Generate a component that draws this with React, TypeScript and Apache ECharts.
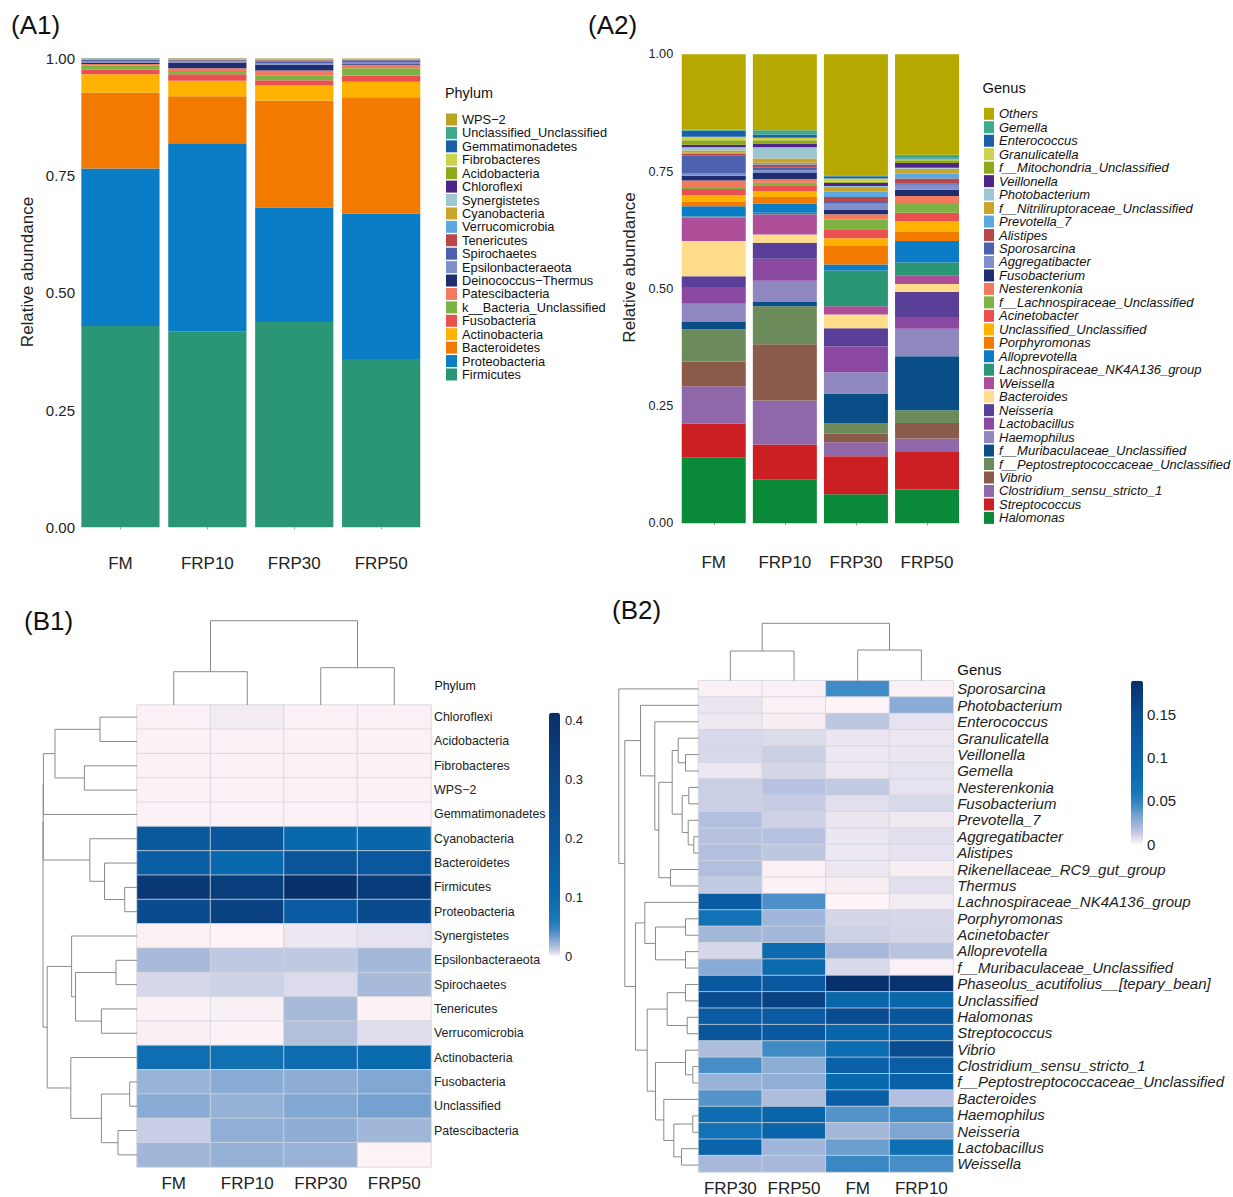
import React, { useEffect, useRef } from "react";
import * as echarts from "echarts";

const FONT = '"Liberation Sans", Arial, Helvetica, sans-serif';
const INK = "#222";

const SAMPLES = ["FM", "FRP10", "FRP30", "FRP50"];

// ---------- (A1) phylum composition, stacked bottom -> top ----------
const phylumStack = [
  "Firmicutes", "Proteobacteria", "Bacteroidetes", "Actinobacteria", "Fusobacteria",
  "k__Bacteria_Unclassified", "Patescibacteria", "Deinococcus\u2212Thermus", "Epsilonbacteraeota",
  "Spirochaetes", "Tenericutes", "Verrucomicrobia", "Cyanobacteria", "Synergistetes",
  "Chloroflexi", "Acidobacteria", "Fibrobacteres", "Gemmatimonadetes",
  "Unclassified_Unclassified", "WPS\u22122",
];
const phylumFM = [0.429, 0.336, 0.162, 0.039, 0.010, 0.009, 0.003, 0.003, 0.003, 0.003, 0.0004, 0.0004, 0.001, 0.0003, 0.0003, 0.0002, 0.0001, 0.0001, 0.0001, 0.0001];
const phylumFRP10 = [0.418, 0.401, 0.100, 0.033, 0.014, 0.007, 0.006, 0.012, 0.0028, 0.002, 0.001, 0.0005, 0.001, 0.0003, 0.0007, 0.0002, 0.0001, 0.0001, 0.0001, 0.0001];
const phylumFRP30 = [0.438, 0.244, 0.228, 0.032, 0.011, 0.011, 0.010, 0.012, 0.004, 0.003, 0.003, 0.0015, 0.001, 0.0005, 0.0003, 0.0002, 0.0001, 0.0001, 0.0001, 0.0001];
const phylumFRP50 = [0.359, 0.310, 0.248, 0.033, 0.013, 0.016, 0.007, 0.002, 0.004, 0.004, 0.0005, 0.001, 0.001, 0.0005, 0.0003, 0.0002, 0.0001, 0.0001, 0.0001, 0.0001];
const phylumColors = [
  "#2A9676", "#0A7DC6", "#F27A00", "#FFB300", "#EB5050",
  "#7CB342", "#F47A5E", "#1F2E70", "#7E8FCC",
  "#4E61AE", "#B84848", "#5CA9E0", "#C8A42A", "#9CC6D2",
  "#4D2688", "#8DAA1C", "#CBD34C", "#1A5FA8",
  "#3DAA8C", "#B9A520",
];

// ---------- (A2) genus composition, stacked bottom -> top ----------
const genusStack = [
  "Halomonas", "Streptococcus", "Clostridium_sensu_stricto_1", "Vibrio",
  "f__Peptostreptococcaceae_Unclassified", "f__Muribaculaceae_Unclassified", "Haemophilus",
  "Lactobacillus", "Neisseria", "Bacteroides", "Weissella", "Lachnospiraceae_NK4A136_group",
  "Alloprevotella", "Porphyromonas", "Unclassified_Unclassified", "Acinetobacter",
  "f__Lachnospiraceae_Unclassified", "Nesterenkonia", "Fusobacterium", "Aggregatibacter",
  "Sporosarcina", "Alistipes", "Prevotella_7", "f__Nitriliruptoraceae_Unclassified",
  "Photobacterium", "Veillonella", "f__Mitochondria_Unclassified", "Granulicatella",
  "Enterococcus", "Gemella", "Others",
];
const genusFM = [0.141, 0.072, 0.079, 0.053, 0.069, 0.015, 0.039, 0.036, 0.023, 0.075, 0.050, 0.002, 0.022, 0.009, 0.015, 0.013, 0.004, 0.014, 0.010, 0.006, 0.038, 0.003, 0.002, 0.005, 0.007, 0.005, 0.010, 0.007, 0.013, 0.002, 0.161];
const genusFRP10 = [0.093, 0.075, 0.094, 0.120, 0.081, 0.009, 0.045, 0.047, 0.034, 0.018, 0.043, 0.003, 0.020, 0.014, 0.012, 0.013, 0.005, 0.008, 0.013, 0.006, 0.005, 0.007, 0.004, 0.009, 0.024, 0.008, 0.007, 0.005, 0.007, 0.009, 0.162];
const genusFRP30 = [0.062, 0.081, 0.030, 0.018, 0.023, 0.063, 0.045, 0.055, 0.039, 0.029, 0.018, 0.076, 0.013, 0.039, 0.017, 0.019, 0.021, 0.011, 0.010, 0.014, 0.002, 0.011, 0.011, 0.010, 0.002, 0.007, 0.003, 0.006, 0.005, 0.002, 0.258];
const genusFRP50 = [0.072, 0.080, 0.029, 0.033, 0.027, 0.115, 0.059, 0.025, 0.053, 0.017, 0.019, 0.027, 0.046, 0.019, 0.023, 0.018, 0.021, 0.015, 0.013, 0.011, 0.002, 0.011, 0.011, 0.010, 0.002, 0.010, 0.006, 0.002, 0.002, 0.008, 0.214];
const genusColors = [
  "#0A8A38", "#CC1F24", "#8E68A8", "#8A5A4A",
  "#6B8C5A", "#0A4E88", "#8F88C0",
  "#8A48A0", "#5A3F98", "#FFDD8A", "#AE4E98", "#2A9676",
  "#0A7DC6", "#F27A00", "#FFB300", "#EB5050",
  "#7CB342", "#F47A5E", "#1F2E70", "#7E8FCC",
  "#4E61AE", "#B84848", "#5CA9E0", "#C8A42A",
  "#9CC6D2", "#4D2688", "#8DAA1C", "#CBD34C",
  "#1A5FA8", "#3DAA8C", "#B7A800",
];

// ---------- (B1) phylum heatmap ----------
const b1Rows = [
  "Chloroflexi", "Acidobacteria", "Fibrobacteres", "WPS\u22122", "Gemmatimonadetes",
  "Cyanobacteria", "Bacteroidetes", "Firmicutes", "Proteobacteria", "Synergistetes",
  "Epsilonbacteraeota", "Spirochaetes", "Tenericutes", "Verrucomicrobia", "Actinobacteria",
  "Fusobacteria", "Unclassified", "Patescibacteria", "",
];
const b1Cols = ["FM", "FRP10", "FRP30", "FRP50"];
const b1FM = [0.0008, 0.0006, 0.0006, 0.0006, 0.0006, 0.19, 0.16, 0.37, 0.27, 0.0005, 0.018, 0.007, 0.0005, 0.001, 0.09, 0.022, 0.026, 0.010, 0.020];
const b1FRP10 = [0.002, 0.0006, 0.0006, 0.0006, 0.0006, 0.21, 0.11, 0.34, 0.32, 0.0001, 0.012, 0.009, 0.001, 0.0007, 0.085, 0.026, 0.023, 0.024, 0.023];
const b1FRP30 = [0.0008, 0.0006, 0.0006, 0.0006, 0.0006, 0.11, 0.22, 0.41, 0.18, 0.003, 0.012, 0.006, 0.018, 0.015, 0.095, 0.025, 0.028, 0.025, 0.022];
const b1FRP50 = [0.0008, 0.0006, 0.0006, 0.0006, 0.0006, 0.12, 0.20, 0.35, 0.27, 0.004, 0.019, 0.018, 0.0005, 0.005, 0.10, 0.028, 0.031, 0.020, 0.0003];
const b1Max = 0.414;
const b1Ticks = 0.1;

// hclust-style merges: negative = leaf -(index+1), positive = earlier merge (1-based)
const b1RowMerges = [
  [-1, -2, 37], [-3, -4, 52.6], [1, 2, 82], [3, -5, 93.6],
  [-8, -9, 12.3], [-7, 5, 32.5], [-6, 6, 47.2], [4, 7, 93.8],
  [-11, -12, 21], [-13, -14, 35.6], [9, 10, 61.5], [-10, 11, 65.4],
  [-16, -17, 7.3], [-18, -19, 19], [13, 14, 35.6], [-15, 15, 66.2],
  [12, 16, 89.8], [8, 17, 94],
];
const b1ColMerges = [[-1, -2, 33.3], [-3, -4, 37.3], [1, 2, 84.3]];

// ---------- (B2) genus heatmap ----------
const b2Rows = [
  "Sporosarcina", "Photobacterium", "Enterococcus", "Granulicatella", "Veillonella",
  "Gemella", "Nesterenkonia", "Fusobacterium", "Prevotella_7", "Aggregatibacter",
  "Alistipes", "Rikenellaceae_RC9_gut_group", "Thermus", "Lachnospiraceae_NK4A136_group",
  "Porphyromonas", "Acinetobacter", "Alloprevotella", "f__Muribaculaceae_Unclassified",
  "Phaseolus_acutifolius__[tepary_bean]", "Unclassified", "Halomonas", "Streptococcus",
  "Vibrio", "Clostridium_sensu_stricto_1", "f__Peptostreptococcaceae_Unclassified",
  "Bacteroides", "Haemophilus", "Neisseria", "Lactobacillus", "Weissella",
];
const b2Cols = ["FRP30", "FRP50", "FM", "FRP10"];
const b2FRP30 = [0.001, 0.004, 0.003, 0.008, 0.008, 0.0035, 0.011, 0.011, 0.017, 0.016, 0.017, 0.017, 0.013, 0.12, 0.07, 0.021, 0.0085, 0.028, 0.125, 0.15, 0.12, 0.13, 0.018, 0.043, 0.024, 0.04, 0.08, 0.07, 0.1, 0.02];
const b2FRP50 = [0.001, 0.001, 0.0015, 0.007, 0.011, 0.009, 0.016, 0.012, 0.01, 0.016, 0.014, 0.001, 0.0005, 0.042, 0.022, 0.021, 0.085, 0.085, 0.125, 0.165, 0.12, 0.125, 0.045, 0.027, 0.026, 0.018, 0.1, 0.1, 0.022, 0.02];
const b2FM = [0.045, 0, 0.014, 0.004, 0.0035, 0.0035, 0.013, 0.006, 0.004, 0.004, 0.0035, 0.0035, 0.0015, 0, 0.009, 0.0105, 0.02, 0.008, 0.1886, 0.095, 0.15, 0.095, 0.08, 0.105, 0.09, 0.11, 0.04, 0.021, 0.035, 0.047];
const b2FRP10 = [0.001, 0.028, 0.005, 0.0035, 0.004, 0.005, 0.005, 0.008, 0.003, 0.006, 0.005, 0.0015, 0.006, 0.0025, 0.0085, 0.009, 0.015, 0.001, 0.185, 0.095, 0.13, 0.105, 0.15, 0.115, 0.105, 0.017, 0.045, 0.031, 0.075, 0.043];
const b2Max = 0.1886;
const b2Ticks = 0.05;

const b2RowMerges = [
  [-5, -6, 13], [-4, 1, 20.3], [-7, -8, 9.7], [-10, -11, 4.7], [-9, 4, 10.3],
  [3, 5, 16.3], [2, 6, 26.3], [-12, -13, 28], [7, 8, 39.7], [-3, 9, 43.7],
  [-2, 10, 58], [-15, -16, 13], [-17, -18, 13], [12, 13, 43], [-14, 14, 53.7],
  [-19, -20, 13], [-21, -22, 11.3], [16, 17, 31.3], [-24, -25, 5.7], [-23, 19, 13],
  [-27, -28, 5.7], [-29, -30, 17], [21, 22, 24.7], [-26, 23, 34.7], [20, 24, 43],
  [18, 25, 51.3], [15, 26, 63], [11, 27, 73.7], [-1, 28, 79.7],
];
const b2ColMerges = [[-1, -2, 29.7], [-3, -4, 30.7], [1, 2, 57.4]];

// colour ramps (value, colour) for the two heatmap scales
const b1Ramp: [number, string][] = [
  [0, "#FFF4F7"], [0.006, "#D9DAEB"], [0.015, "#B2BFDC"], [0.025, "#8EAED5"],
  [0.04, "#4C8EC6"], [0.06, "#1C78B9"], [0.1, "#0A6AAE"], [0.2, "#0A579D"],
  [0.3, "#0A4686"], [0.414, "#08306B"],
];
const b2Ramp: [number, string][] = [
  [0, "#FFF4F7"], [0.005, "#E6E2EF"], [0.012, "#C6CCE3"], [0.02, "#A6B8DA"],
  [0.03, "#82A8D3"], [0.045, "#3F8AC4"], [0.06, "#1676B8"], [0.09, "#0A68AD"],
  [0.12, "#0A5BA3"], [0.15, "#0A4C90"], [0.1886, "#08306B"],
];

function hexRgb(h: string) {
  const n = parseInt(h.slice(1), 16);
  return [(n >> 16) & 255, (n >> 8) & 255, n & 255];
}
function sampleRamp(stops: [number, string][], max: number, n: number) {
  const out: string[] = [];
  for (let i = 0; i < n; i++) {
    const v = (max * i) / (n - 1);
    let k = 0;
    while (k < stops.length - 2 && v > stops[k + 1][0]) k++;
    const [v0, c0] = stops[k];
    const [v1, c1] = stops[k + 1];
    const t = Math.min(1, Math.max(0, (v - v0) / (v1 - v0)));
    const a = hexRgb(c0), b = hexRgb(c1);
    const c = a.map((x, j) => Math.round(x + (b[j] - x) * t));
    out.push(`rgb(${c[0]},${c[1]},${c[2]})`);
  }
  return out;
}

// elbow paths of a dendrogram in (leaf position, height) space
function dendroPaths(merges: number[][], rowWise: boolean) {
  const pos: number[] = [];
  const hgt: number[] = [];
  const node = (k: number) => (k < 0 ? { p: -k - 1, h: 0 } : { p: pos[k - 1], h: hgt[k - 1] });
  const paths: { coords: number[][] }[] = [];
  merges.forEach(([a, b, h]) => {
    const A = node(a), B = node(b);
    const pts = [[A.p, A.h], [A.p, h], [B.p, h], [B.p, B.h]];
    paths.push({ coords: rowWise ? pts.map(([p, y]) => [y, p]) : pts });
    pos.push((A.p + B.p) / 2);
    hgt.push(h);
  });
  return paths;
}

function heatData(cols: number[][]) {
  const d: number[][] = [];
  cols.forEach((col, c) => col.forEach((v, r) => d.push([c, r, v])));
  return d;
}

const hidden = { show: false };

function buildOption() {
  const a1Cols = [phylumFM, phylumFRP10, phylumFRP30, phylumFRP50];
  const a2Cols = [genusFM, genusFRP10, genusFRP30, genusFRP50];

  const a1Series = phylumStack.map((name, i) => ({
    type: "bar", name, stack: "phylum", xAxisIndex: 0, yAxisIndex: 0,
    barCategoryGap: "10%", data: a1Cols.map((c) => c[i]),
    itemStyle: { color: phylumColors[i] }, emphasis: { disabled: true },
  }));
  const a2Series = genusStack.map((name, i) => ({
    type: "bar", name, stack: "genus", xAxisIndex: 1, yAxisIndex: 1,
    barCategoryGap: "10%", data: a2Cols.map((c) => c[i]),
    itemStyle: { color: genusColors[i] }, emphasis: { disabled: true },
  }));

  const cell = { borderColor: "#D2D5DC", borderWidth: 0.8 };
  const b1Index = a1Series.length + a2Series.length;
  const b2Index = b1Index + 1;
  const dendroLine = { color: "#8A8A8A", width: 1, opacity: 1 };

  const series: any[] = [
    ...a1Series,
    ...a2Series,
    {
      type: "heatmap", xAxisIndex: 2, yAxisIndex: 2,
      data: heatData([b1FM, b1FRP10, b1FRP30, b1FRP50]),
      itemStyle: cell, emphasis: { disabled: true },
    },
    {
      type: "heatmap", xAxisIndex: 5, yAxisIndex: 5,
      data: heatData([b2FRP30, b2FRP50, b2FM, b2FRP10]),
      itemStyle: cell, emphasis: { disabled: true },
    },
    { type: "lines", coordinateSystem: "cartesian2d", xAxisIndex: 3, yAxisIndex: 3, polyline: true, silent: true, lineStyle: dendroLine, data: dendroPaths(b1RowMerges, true) },
    { type: "lines", coordinateSystem: "cartesian2d", xAxisIndex: 4, yAxisIndex: 4, polyline: true, silent: true, lineStyle: dendroLine, data: dendroPaths(b1ColMerges, false) },
    { type: "lines", coordinateSystem: "cartesian2d", xAxisIndex: 6, yAxisIndex: 6, polyline: true, silent: true, lineStyle: dendroLine, data: dendroPaths(b2RowMerges, true) },
    { type: "lines", coordinateSystem: "cartesian2d", xAxisIndex: 7, yAxisIndex: 7, polyline: true, silent: true, lineStyle: dendroLine, data: dendroPaths(b2ColMerges, false) },
  ];

  const grid = [
    { left: 77, top: 58.3, width: 347.6, height: 469 },        // 0 A1 bars
    { left: 678.2, top: 54.3, width: 284.4, height: 469 },     // 1 A2 bars
    { left: 137, top: 705, width: 294, height: 462 },          // 2 B1 heatmap
    { left: 37, top: 705, width: 100, height: 462 },           // 3 B1 row tree
    { left: 137, top: 605, width: 294, height: 100 },          // 4 B1 column tree
    { left: 698.5, top: 680.7, width: 254.7, height: 492.6 },  // 5 B2 heatmap
    { left: 598.5, top: 680.7, width: 100, height: 492.6 },    // 6 B2 row tree
    { left: 698.5, top: 580.7, width: 254.7, height: 100 },    // 7 B2 column tree
    { left: 549, top: 712.7, width: 11, height: 243.3 },       // 8 B1 colour bar
    { left: 1131, top: 680.7, width: 12, height: 163.3 },      // 9 B2 colour bar
  ];

  const barX = (gridIndex: number, offset: number, margin: number) => ({
    type: "category", gridIndex, data: SAMPLES, offset,
    axisLine: hidden,
    axisTick: { show: true, alignWithLabel: true, length: 2, lineStyle: { color: "#999" } },
    axisLabel: { fontSize: 17, color: INK, margin, interval: 0 },
  });
  const barY = (gridIndex: number, fontSize: number, margin: number) => ({
    type: "value", gridIndex, min: 0, max: 1, interval: 0.25,
    axisLine: hidden, axisTick: hidden, splitLine: hidden,
    axisLabel: { fontSize, color: INK, margin, formatter: (v: number) => v.toFixed(2) },
  });
  const heatX = (gridIndex: number, data: string[]) => ({
    type: "category", gridIndex, data, position: "bottom",
    axisLine: hidden, axisTick: hidden, splitArea: hidden,
    axisLabel: { fontSize: 17, color: INK, margin: 8, interval: 0 },
  });
  const heatY = (gridIndex: number, data: string[], style: any) => ({
    type: "category", gridIndex, data, inverse: true, position: "right",
    axisLine: hidden, axisTick: hidden, splitArea: hidden,
    axisLabel: { color: INK, interval: 0, ...style },
  });
  const treeVal = (gridIndex: number, min: number, max: number, inverse = false) => ({
    type: "value", gridIndex, min, max, inverse, show: false,
  });
  const cbarY = (gridIndex: number, max: number, interval: number, style: any) => ({
    type: "value", gridIndex, min: 0, max, interval, position: "right",
    axisLine: hidden, axisTick: hidden, splitLine: hidden,
    axisLabel: { color: INK, showMaxLabel: false, formatter: (v: number) => String(+v.toFixed(2)), ...style },
  });

  const xAxis = [
    barX(0, 20, 8),
    barX(1, 22, 9),
    heatX(2, b1Cols),
    treeVal(3, 0, 100, true),
    treeVal(4, -0.5, 3.5),
    heatX(5, b2Cols),
    treeVal(6, 0, 100, true),
    treeVal(7, -0.5, 3.5),
    treeVal(8, 0, 1),
    treeVal(9, 0, 1),
  ];
  const yAxis = [
    barY(0, 15, 2),
    barY(1, 12.7, 5),
    heatY(2, b1Rows, { fontSize: 12.4, margin: 3 }),
    treeVal(3, -0.5, b1Rows.length - 0.5, true),
    treeVal(4, 0, 100),
    heatY(5, b2Rows, { fontSize: 15, fontStyle: "italic", margin: 4 }),
    treeVal(6, -0.5, b2Rows.length - 0.5, true),
    treeVal(7, 0, 100),
    cbarY(8, b1Max, b1Ticks, { fontSize: 13, margin: 5 }),
    cbarY(9, b2Max, b2Ticks, { fontSize: 15, margin: 4 }),
  ];

  const legendBase = {
    orient: "vertical", icon: "rect", padding: 0, selectedMode: false,
    itemHeight: 12, inactiveColor: "#ccc",
  };
  const legend = [
    {
      ...legendBase, left: 446, top: 113, itemWidth: 11, itemGap: 0.42,
      textStyle: { fontSize: 12.8, lineHeight: 12, color: "#111", fontFamily: FONT },
      data: phylumStack.map((name, i) => ({ name, itemStyle: { color: phylumColors[i] } })).reverse(),
    },
    {
      ...legendBase, left: 984, top: 107.3, itemWidth: 10, itemGap: 0.47,
      textStyle: { fontSize: 13, lineHeight: 12, color: "#111", fontStyle: "italic", fontFamily: FONT },
      data: genusStack.map((name, i) => ({ name, itemStyle: { color: genusColors[i] } })).reverse(),
    },
  ];

  const visualMap = [
    {
      type: "continuous", seriesIndex: b1Index, min: 0, max: b1Max, calculable: false,
      orient: "vertical", left: 549, top: 712.7, itemWidth: 11, itemHeight: 243.3, padding: 0,
      hoverLink: false, inRange: { color: sampleRamp(b1Ramp, b1Max, 80) },
    },
    {
      type: "continuous", seriesIndex: b2Index, min: 0, max: b2Max, calculable: false,
      orient: "vertical", left: 1131, top: 680.7, itemWidth: 12, itemHeight: 163.3, padding: 0,
      hoverLink: false, inRange: { color: sampleRamp(b2Ramp, b2Max, 80) },
    },
  ];

  const label = (text: string, x: number, y: number, fontSize: number, extra: any = {}) => ({
    type: "text", x, y, silent: true,
    style: { text, fontSize, fontFamily: FONT, fill: "#111", align: "left", verticalAlign: "middle", ...extra },
  });
  const graphic = [
    label("(A1)", 11, 25, 26),
    label("(A2)", 588, 25, 26),
    label("(B1)", 24, 621, 26),
    label("(B2)", 612, 610, 26),
    label("Phylum", 445, 93.3, 14.4),
    label("Genus", 982.5, 88.3, 14.7),
    label("Phylum", 434.4, 686, 12.4),
    label("Genus", 957.3, 669, 15),
    {
      type: "text", x: 27.8, y: 272, rotation: Math.PI / 2, silent: true,
      style: { text: "Relative abundance", fontSize: 17, fontFamily: FONT, fill: INK, align: "center", verticalAlign: "middle" },
    },
    {
      type: "text", x: 629.3, y: 267.5, rotation: Math.PI / 2, silent: true,
      style: { text: "Relative abundance", fontSize: 17, fontFamily: FONT, fill: INK, align: "center", verticalAlign: "middle" },
    },
  ];

  return {
    animation: false,
    backgroundColor: "#ffffff",
    textStyle: { fontFamily: FONT },
    grid, xAxis, yAxis, legend, visualMap, series, graphic,
  };
}

export default function App() {
  const ref = useRef<HTMLDivElement>(null);
  useEffect(() => {
    if (!ref.current) return;
    const chart = echarts.init(ref.current, undefined, { renderer: "svg" });
    chart.setOption(buildOption() as any);
    return () => chart.dispose();
  }, []);
  return (
    <div
      ref={ref}
      style={{ position: "absolute", left: 0, top: 0, width: 1233, height: 1197, background: "#fff" }}
    />
  );
}
